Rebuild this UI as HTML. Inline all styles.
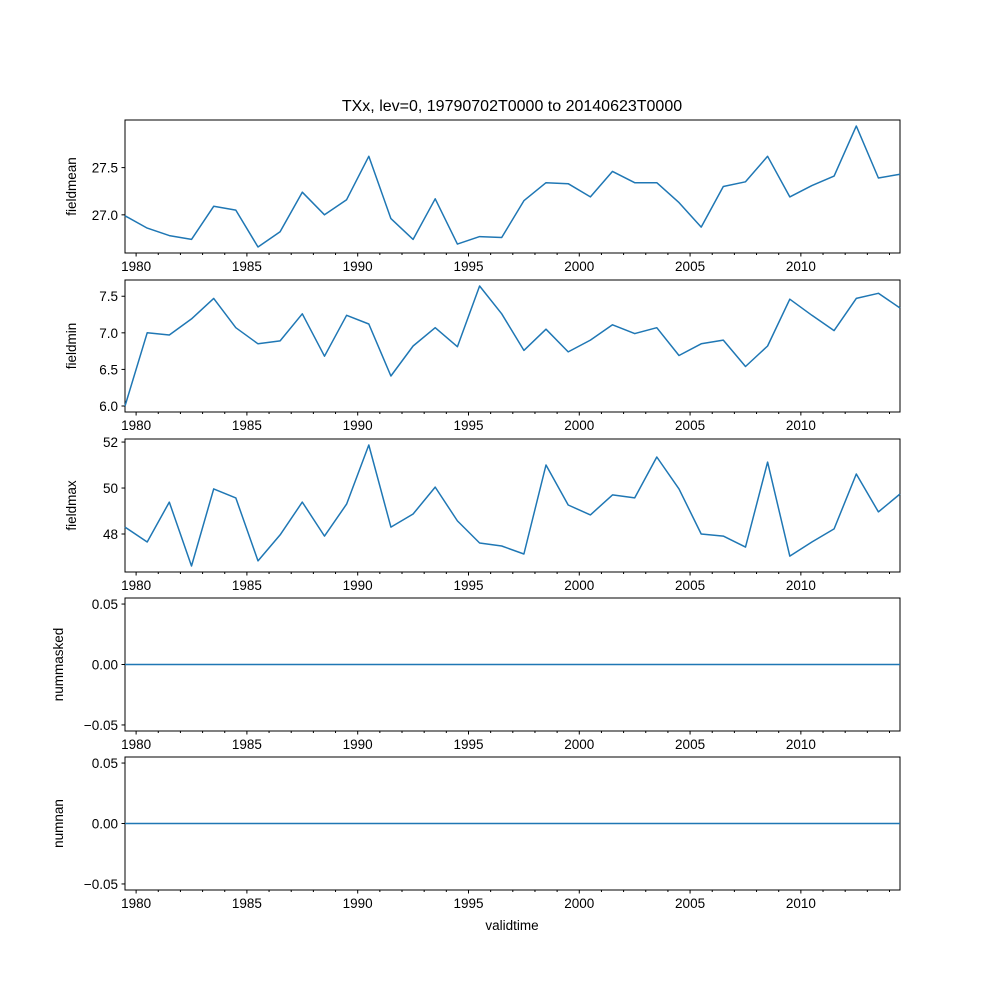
<!DOCTYPE html>
<html><head><meta charset="utf-8"><style>
body{margin:0;background:#fff}
svg{display:block}
text{font-family:"Liberation Sans","DejaVu Sans",sans-serif;font-size:13.5px;fill:#000}
</style></head><body>
<svg id="fig" width="1000" height="1000" viewBox="0 0 1000 1000">
<text x="512" y="111" text-anchor="middle" style="font-size:16px">TXx, lev=0, 19790702T0000 to 20140623T0000</text>
<text x="512" y="930" text-anchor="middle">validtime</text>
</svg>
<script>
const years = [];
for (let y = 1979; y <= 2014; y++) years.push(y);
const fieldmean = [26.99,26.86,26.78,26.74,27.09,27.05,26.66,26.82,27.24,27.0,27.16,27.62,26.96,26.74,27.17,26.69,26.77,26.76,27.15,27.34,27.33,27.19,27.46,27.34,27.34,27.13,26.87,27.30,27.35,27.62,27.19,27.31,27.41,27.94,27.39,27.43];
const fieldmin = [6.0,7.0,6.97,7.19,7.47,7.07,6.85,6.89,7.26,6.68,7.24,7.12,6.41,6.82,7.07,6.81,7.64,7.26,6.76,7.05,6.74,6.9,7.11,6.99,7.07,6.69,6.85,6.9,6.54,6.82,7.46,7.24,7.03,7.47,7.54,7.34];
const fieldmax = [48.3,47.65,49.39,46.61,49.96,49.57,46.83,47.96,49.39,47.91,49.3,51.87,48.3,48.87,50.04,48.57,47.61,47.48,47.13,51.0,49.26,48.83,49.7,49.57,51.35,49.96,48.0,47.91,47.43,51.13,47.04,47.65,48.22,50.61,48.96,49.74];
const nummasked = years.map(() => 0);
const numnan = years.map(() => 0);
const xTickYears = [1980,1985,1990,1995,2000,2005,2010];
const meanTicks = ["27.0","27.5"];
const minTicks = ["6.0","6.5","7.0","7.5"];
const maxTicks = ["48","50","52"];
const zeroTicks = ["-0.05","0.00","0.05"];

const NS = "http://www.w3.org/2000/svg";
const svg = document.getElementById('fig');
const L = 125, R = 900;
const t0 = 1979 + 182/365, t1 = 2014 + 173/365;
function xScale(t){ return L + (t - t0) / (t1 - t0) * (R - L); }
function mk(tag, attrs){ const e = document.createElementNS(NS, tag); for (const k in attrs) e.setAttribute(k, attrs[k]); svg.appendChild(e); return e; }

const panels = [
  {name:'fieldmean', data:fieldmean, ticks:meanTicks, top:120, bot:253},
  {name:'fieldmin', data:fieldmin, ticks:minTicks, top:280, bot:412},
  {name:'fieldmax', data:fieldmax, ticks:maxTicks, top:439, bot:572},
  {name:'nummasked', data:nummasked, ticks:zeroTicks, top:598, bot:731},
  {name:'numnan', data:numnan, ticks:zeroTicks, top:757, bot:890}
];

panels.forEach(p => {
  let mn = Math.min(...p.data), mx = Math.max(...p.data);
  if (mn === mx) { mn -= 0.05; mx += 0.05; }
  const m = (mx - mn) * 0.05; mn -= m; mx += m;
  const yScale = v => p.bot - (v - mn) / (mx - mn) * (p.bot - p.top);
  const fr = mk('rect', {x:L, y:p.top, width:R-L, height:p.bot-p.top, fill:'none', stroke:'#000', 'stroke-width':1});
  
  
  p.ticks.forEach(lbl => {
    const y = yScale(parseFloat(lbl));
    const tk = mk('line', {x1:L-3.5, x2:L, y1:y, y2:y, stroke:'#000'});
    
    
    const tx = mk('text', {x:L-7, y:y+5, 'text-anchor':'end'});
    tx.textContent = lbl.replace('-', '\u2212');
    
    
  });
  for (let yr = 1980; yr <= 2014; yr++) {
    const x = xScale(yr);
    const major = xTickYears.includes(yr);
    const tk = mk('line', {x1:x, x2:x, y1:p.bot, y2:p.bot + (major ? 3.5 : 2), stroke:'#000'});
    
    
  }
  xTickYears.forEach(yr => {
    const tx = mk('text', {x:xScale(yr), y:p.bot+18, 'text-anchor':'middle'});
    tx.textContent = yr;
    
    
  });
  const cy = (p.top + p.bot) / 2;
  const yl = mk('text', {x:0, y:0, 'text-anchor':'middle', transform:`translate(${p.name.startsWith('num') ? 63 : 76},${cy}) rotate(-90)`});
  yl.textContent = p.name;
  
  
  const pts = p.data.map((v, i) => {
    const t = i === 0 ? t0 : (i === p.data.length - 1 ? t1 : years[i] + 0.5);
    return xScale(t).toFixed(1) + ',' + yScale(v).toFixed(1);
  }).join(' ');
  const ln = mk('polyline', {points:pts, fill:'none', stroke:'#1f77b4', 'stroke-width':1.5, 'stroke-linejoin':'round'});
  
  
});
</script>
</body></html>
